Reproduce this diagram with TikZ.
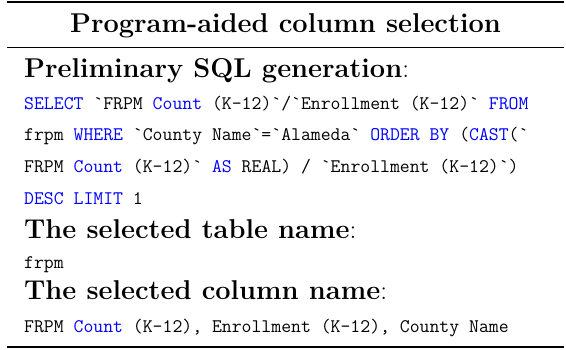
\documentclass[tikz,border=0pt]{standalone}
\usepackage{xcolor}
\definecolor{kwblue}{RGB}{0,0,255}
\newcommand{\kw}[1]{\textcolor{kwblue}{#1}}
\newcommand{\bq}{\textasciigrave}
\begin{document}
\begin{tikzpicture}[x=1pt,y=-1pt,
  head/.style={anchor=base west,inner sep=0pt,font=\fontsize{27.2}{30}\selectfont},
  title/.style={anchor=base,inner sep=0pt,font=\fontsize{27.2}{30}\selectfont\bfseries},
  code/.style={anchor=base west,inner sep=0pt,font=\fontsize{19.2}{22}\selectfont\ttfamily},
  toprule/.style={line width=1.6pt},
  midrule/.style={line width=1pt},
  botrule/.style={line width=2pt}]
  \useasboundingbox (0,0) rectangle (566,349);
  % rules of the table
  \coordinate (tl) at (7,1.7);   \coordinate (tr) at (564,1.7);
  \coordinate (ml) at (7,47);    \coordinate (mr) at (564,47);
  \coordinate (bl) at (7,347);   \coordinate (br) at (564,347);
  \draw[toprule] (tl) -- (tr);
  \draw[midrule] (ml) -- (mr);
  \draw[botrule] (bl) -- (br);
  % title
  \node[title] (ttl) at (285.5,32) {Program-aided column selection};
  % body
  \node[head] (h1) at (24,77) {\textbf{Preliminary SQL generation}:};
  \node[code] (c1) at (24,109) {\kw{SELECT} \bq FRPM \kw{Count} (K-12)\bq/\bq Enrollment (K-12)\bq{} \kw{FROM}};
  \node[code] (c2) at (24,140) {frpm \kw{WHERE} \bq County Name\bq=\bq Alameda\bq{} \kw{ORDER BY} (\kw{CAST}(\bq};
  \node[code] (c3) at (24,172) {FRPM \kw{Count} (K-12)\bq{} \kw{AS} REAL) / \bq Enrollment (K-12)\bq)};
  \node[code] (c4) at (24,204) {\kw{DESC LIMIT} 1};
  \node[head] (h2) at (24,238) {\textbf{The selected table name}:};
  \node[code] (c5) at (24,268) {frpm};
  \node[head] (h3) at (24,299) {\textbf{The selected column name}:};
  \node[code] (c6) at (24,332) {FRPM \kw{Count} (K-12), Enrollment (K-12), County Name};
\end{tikzpicture}
\end{document}
